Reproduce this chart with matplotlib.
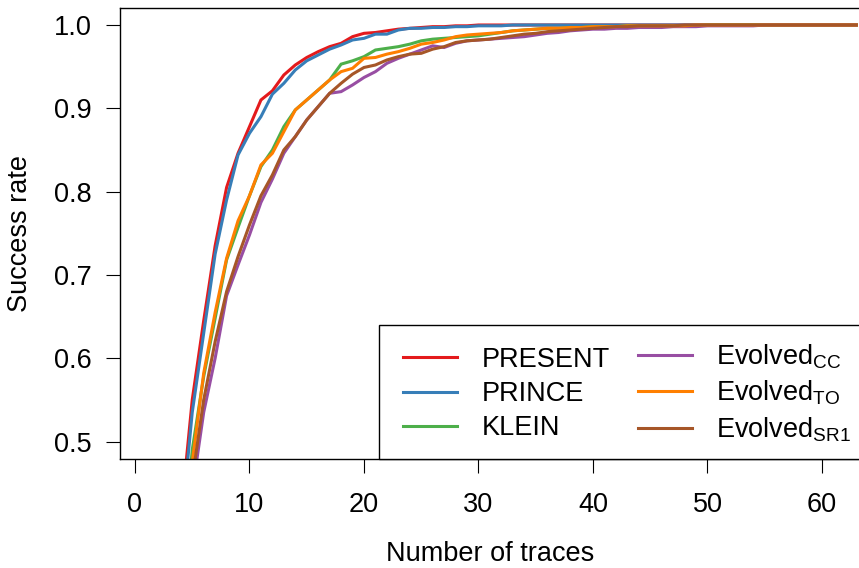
import matplotlib
matplotlib.use("Agg")
import matplotlib.pyplot as plt
from matplotlib.patches import Rectangle

plt.rcParams['font.family'] = ['Liberation Sans', 'DejaVu Sans']
plt.rcParams['mathtext.fontset'] = 'custom'
plt.rcParams['mathtext.rm'] = 'Liberation Sans'
plt.rcParams['mathtext.it'] = 'Liberation Sans'

traces = list(range(1, 64))

present = [0.02, 0.10, 0.24, 0.41, 0.55, 0.645, 0.735, 0.805, 0.846, 0.878,
           0.910, 0.921, 0.940, 0.952, 0.961, 0.968, 0.974, 0.978, 0.986, 0.990,
           0.991, 0.993, 0.995, 0.996, 0.997, 0.998, 0.998, 0.999, 0.999, 1.0,
           1.0, 1.0, 1.0, 1.0, 1.0, 1.0, 1.0, 1.0, 1.0, 1.0,
           1.0, 1.0, 1.0, 1.0, 1.0, 1.0, 1.0, 1.0, 1.0, 1.0,
           1.0, 1.0, 1.0, 1.0, 1.0, 1.0, 1.0, 1.0, 1.0, 1.0,
           1.0, 1.0, 1.0]
prince = [0.02, 0.09, 0.22, 0.39, 0.535, 0.63, 0.725, 0.790, 0.844, 0.870,
          0.890, 0.917, 0.930, 0.946, 0.957, 0.964, 0.971, 0.976, 0.982, 0.984,
          0.989, 0.989, 0.994, 0.996, 0.996, 0.997, 0.997, 0.998, 0.998, 0.999,
          0.999, 0.999, 1.0, 1.0, 1.0, 1.0, 1.0, 1.0, 1.0, 1.0,
          1.0, 1.0, 1.0, 1.0, 1.0, 1.0, 1.0, 1.0, 1.0, 1.0,
          1.0, 1.0, 1.0, 1.0, 1.0, 1.0, 1.0, 1.0, 1.0, 1.0,
          1.0, 1.0, 1.0]
klein = [0.01, 0.07, 0.18, 0.34, 0.49, 0.578, 0.648, 0.718, 0.757, 0.795,
         0.830, 0.850, 0.878, 0.898, 0.910, 0.922, 0.934, 0.953, 0.957, 0.962,
         0.970, 0.972, 0.974, 0.977, 0.981, 0.983, 0.984, 0.985, 0.986, 0.987,
         0.989, 0.991, 0.993, 0.994, 0.995, 0.996, 0.996, 0.997, 0.997, 0.998,
         0.998, 0.998, 0.999, 0.999, 0.999, 0.999, 0.999, 0.999, 0.999, 1.0,
         1.0, 1.0, 1.0, 1.0, 1.0, 1.0, 1.0, 1.0, 1.0, 1.0,
         1.0, 1.0, 1.0]
evolved_cc = [0.01, 0.05, 0.14, 0.29, 0.44, 0.535, 0.60, 0.675, 0.712, 0.748,
              0.787, 0.815, 0.846, 0.866, 0.886, 0.902, 0.918, 0.920, 0.928, 0.937,
              0.944, 0.954, 0.960, 0.965, 0.970, 0.975, 0.973, 0.978, 0.981, 0.982,
              0.983, 0.984, 0.985, 0.986, 0.988, 0.990, 0.991, 0.993, 0.994, 0.995,
              0.995, 0.996, 0.996, 0.997, 0.997, 0.997, 0.998, 0.998, 0.998, 0.999,
              0.999, 0.999, 0.999, 0.999, 1.0, 1.0, 1.0, 1.0, 1.0, 1.0,
              1.0, 1.0, 1.0]
evolved_to = [0.01, 0.06, 0.17, 0.33, 0.475, 0.582, 0.655, 0.720, 0.765, 0.795,
              0.832, 0.846, 0.872, 0.898, 0.910, 0.922, 0.934, 0.944, 0.948, 0.960,
              0.961, 0.965, 0.968, 0.972, 0.977, 0.979, 0.982, 0.986, 0.988, 0.989,
              0.990, 0.991, 0.993, 0.994, 0.995, 0.996, 0.996, 0.997, 0.997, 0.998,
              0.998, 0.998, 0.999, 0.999, 0.999, 0.999, 0.999, 0.999, 1.0, 1.0,
              1.0, 1.0, 1.0, 1.0, 1.0, 1.0, 1.0, 1.0, 1.0, 1.0,
              1.0, 1.0, 1.0]
evolved_sr1 = [0.01, 0.05, 0.15, 0.30, 0.455, 0.55, 0.62, 0.68, 0.722, 0.760,
               0.795, 0.820, 0.850, 0.866, 0.886, 0.902, 0.918, 0.930, 0.941, 0.949,
               0.952, 0.958, 0.962, 0.965, 0.966, 0.971, 0.974, 0.979, 0.981, 0.982,
               0.983, 0.985, 0.987, 0.989, 0.990, 0.992, 0.993, 0.994, 0.995, 0.996,
               0.997, 0.998, 0.998, 0.999, 0.999, 0.999, 0.999, 1.0, 1.0, 1.0,
               1.0, 1.0, 1.0, 1.0, 1.0, 1.0, 1.0, 1.0, 1.0, 1.0,
               1.0, 1.0, 1.0]

series = [
    ("PRESENT", present, "#E41A1C"),
    ("PRINCE", prince, "#377EB8"),
    ("KLEIN", klein, "#4DAF4A"),
    (r"Evolved$_{\mathregular{CC}}$", evolved_cc, "#984EA3"),
    (r"Evolved$_{\mathregular{TO}}$", evolved_to, "#FF7F00"),
    (r"Evolved$_{\mathregular{SR1}}$", evolved_sr1, "#A65628"),
]
xticks = [0, 10, 20, 30, 40, 50, 60]
yticks = [0.5, 0.6, 0.7, 0.8, 0.9, 1.0]
yticklabels = ["0.5", "0.6", "0.7", "0.8", "0.9", "1.0"]

FS = 19.5
W, H = 859, 568
fig = plt.figure(figsize=(W / 100, H / 100), dpi=100)
ax = fig.add_axes([120 / W, 1 - 459 / H, 740 / W, 451 / H])

handles = []
for name, vals, col in series:
    h, = ax.plot(traces, vals, color=col, lw=2.2, label=name, solid_joinstyle='miter')
    handles.append(h)

ax.set_xlim(-1.31, 63.32)
ax.set_ylim(0.479, 1.0204)
ax.set_xticks(xticks)
ax.set_yticks(yticks)
ax.set_yticklabels(yticklabels)
for s in ax.spines.values():
    s.set_linewidth(1.0)
    s.set_color("black")
ax.tick_params(direction='out', length=10, width=0.8, labelsize=FS, colors='black')
ax.tick_params(axis='y', pad=10.5)
ax.tick_params(axis='x', pad=13.5)

ax.set_xlabel("Number of traces", fontsize=FS, va='baseline')
ax.set_ylabel("Success rate", fontsize=FS, va='center')
ax.xaxis.set_label_coords(0.5, (459 - 561) / 451)
ax.yaxis.set_label_coords((20 - 120) / 740, 0.5)

# legend frame (extends to plot region's right edge)
x0 = (379 - 120) / 740
frame = Rectangle((x0, 0), 1.2 - x0, (459 - 325) / 451, transform=ax.transAxes,
                  facecolor='white', edgecolor='black', lw=1.0, zorder=5, clip_on=False)
ax.add_patch(frame)

common = dict(frameon=False, fontsize=FS, handlelength=2.0, handletextpad=0.89,
              labelspacing=0.3, borderpad=0, borderaxespad=0, loc='center left',
              bbox_transform=fig.transFigure)
leg1 = ax.legend(handles=handles[:3], bbox_to_anchor=(403 / W, 1 - 394 / H), **common)
leg1.set_zorder(6)
ax.add_artist(leg1)
leg2 = ax.legend(handles=handles[3:], bbox_to_anchor=(638 / W, 1 - 393 / H), **common)
leg2.set_zorder(6)

fig.savefig("out.png", dpi=100)
